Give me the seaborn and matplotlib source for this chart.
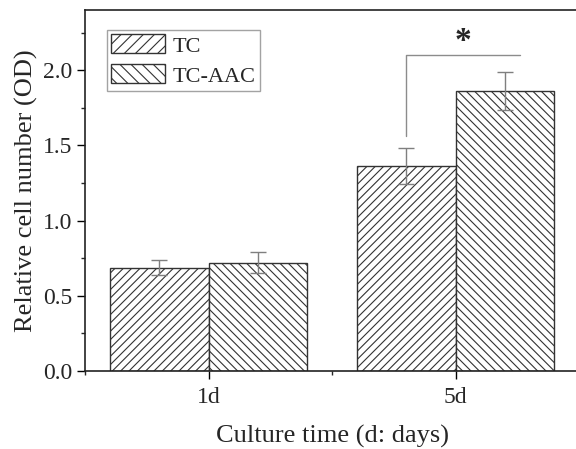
import numpy as np
import pandas as pd
import matplotlib
matplotlib.use('Agg')
import matplotlib.pyplot as plt
import matplotlib.patches as mpatches
from matplotlib.ticker import MultipleLocator
import seaborn as sns

# data
days = ['1d', '5d']
groups = ['TC', 'TC-AAC']
tc_mean = [0.685, 1.36]
tc_err = [0.05, 0.12]
aac_mean = [0.72, 1.86]
aac_err = [0.07, 0.125]
hatches = ['////', '\\\\\\\\']

df = pd.DataFrame({'day': days * 2,
                   'group': [groups[0]] * 2 + [groups[1]] * 2,
                   'od': tc_mean + aac_mean})
errs = [tc_err, aac_err]

sns.set_style("ticks")
plt.rcParams['font.family'] = ['Liberation Serif', 'DejaVu Serif']
plt.rcParams['hatch.linewidth'] = 0.8
plt.rcParams['hatch.color'] = '#333333'

fig = plt.figure(figsize=(5.76, 4.49), dpi=100)
ax = fig.add_axes([0.1476, 0.1737, 0.8576, 0.804])

sns.barplot(data=df, x='day', y='od', hue='group', order=days, hue_order=groups,
            palette=['white', 'white'], edgecolor='#333333', linewidth=1.0,
            errorbar=None, legend=False, ax=ax)

for cont, h, e in zip(ax.containers, hatches, errs):
    xs, ys = [], []
    for p in cont:
        p.set_hatch(h)
        xs.append(p.get_x() + p.get_width() / 2)
        ys.append(p.get_height())
    ax.errorbar(xs, ys, yerr=e, fmt='none', ecolor='#7f7f7f', elinewidth=1.0,
                capsize=5.5, capthick=1.0)

# significance bracket
ax.plot([0.8, 0.8, 1.263], [1.56, 2.1, 2.1], color='#8c8c8c', lw=1.0)
ax.text(1.03, 2.19, '*', fontsize=24, fontweight='bold', ha='center', va='center')

ax.set_xlim(-0.5, 1.5)
ax.set_ylim(0, 2.4)
ax.yaxis.set_major_locator(MultipleLocator(0.5))
ax.yaxis.set_minor_locator(MultipleLocator(0.25))
ax.xaxis.set_minor_locator(MultipleLocator(0.5))
ax.yaxis.set_major_formatter(matplotlib.ticker.FormatStrFormatter('%.1f'))
ax.tick_params(which='major', direction='out', length=5.5, width=1.0, labelsize=17, color='black')
ax.tick_params(axis='x', which='major', pad=6)
ax.tick_params(which='minor', direction='out', length=3, width=1.0)
ax.tick_params(axis='x', which='minor', bottom=True)

for s in ['left', 'bottom', 'top']:
    ax.spines[s].set_color('#222222')
    ax.spines[s].set_linewidth(1.2)
ax.spines['right'].set_visible(False)

ax.set_xlabel('Culture time (d: days)', fontsize=19, labelpad=12)
ax.set_ylabel('Relative cell number (OD)', fontsize=19, labelpad=4)

handles = [mpatches.Patch(facecolor='white', edgecolor='#333333', hatch=h, label=g)
           for g, h in zip(groups, ['///', '\\\\\\'])]
leg = ax.legend(handles=handles, loc='upper left', bbox_to_anchor=(0.0445, 0.945),
                borderaxespad=0, fontsize=16, handlelength=2.4, handleheight=0.95,
                labelspacing=0.35, borderpad=0.2, handletextpad=0.35,
                fancybox=False, frameon=True)
leg.get_frame().set_edgecolor('#8c8c8c')
leg.get_frame().set_linewidth(1.0)

fig.savefig('out.png', dpi=100)
